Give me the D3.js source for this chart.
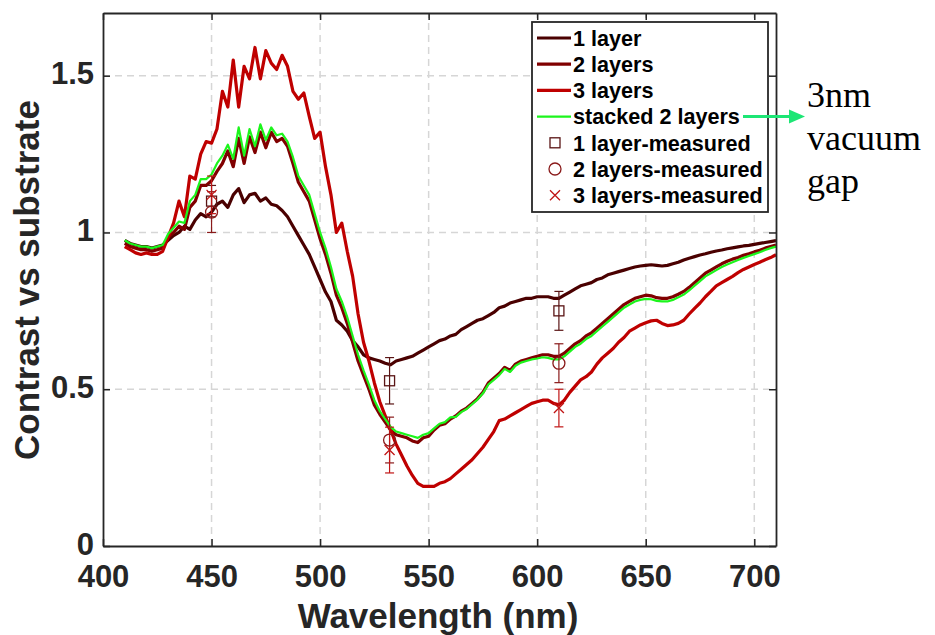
<!DOCTYPE html>
<html><head><meta charset="utf-8">
<script src="https://cdn.jsdelivr.net/npm/d3@7"></script>
<style>body{margin:0;background:#fff}</style>
</head><body>
<svg id="chart" width="935" height="635"></svg>
<script>
// ---- data ----
const wavelengths = [410,412.5,415,417.5,420,422.5,425,427.5,430,432.5,435,437.5,440,442.5,445,447.5,450,452.5,455,457.5,460,462.5,465,467.5,470,472.5,475,477.5,480,482.5,485,487.5,490,492.5,495,497.5,500,502.5,505,507.5,510,512.5,515,517.5,520,522.5,525,527.5,530,532.5,535,537.5,540,542.5,545,547.5,550,552.5,555,557.5,560,562.5,565,567.5,570,572.5,575,577.5,580,582.5,585,587.5,590,592.5,595,597.5,600,602.5,605,607.5,610,612.5,615,617.5,620,622.5,625,627.5,630,632.5,635,637.5,640,642.5,645,647.5,650,652.5,655,657.5,660,662.5,665,667.5,670,672.5,675,677.5,680,682.5,685,687.5,690,692.5,695,697.5,700,702.5,705,707.5,710];

const oneLayer = [0.975,0.965,0.96,0.955, 0.955,0.95,0.955,0.96, 0.975,0.99,1.0,1.02, 1.01,1.04,1.06,1.05,
 1.065,1.09,1.10,1.08, 1.12,1.14,1.095,1.12, 1.125,1.10,1.11,1.09, 1.085,1.07,1.05,1.02,
 0.99,0.96,0.93,0.89, 0.85,0.81,0.78,0.72, 0.705,0.685,0.655,0.635, 0.61,0.60,0.595,0.59,
 0.583,0.578,0.59,0.595, 0.60,0.605,0.615,0.625, 0.635,0.645,0.655,0.66, 0.67,0.675,0.69,0.70,
 0.71,0.72,0.725,0.735, 0.745,0.76,0.765,0.775, 0.78,0.785,0.79,0.79, 0.795,0.795,0.795,0.79,
 0.79,0.80,0.81,0.82, 0.83,0.835,0.84,0.85, 0.855,0.865,0.87,0.875, 0.88,0.885,0.89,0.893,
 0.895,0.897,0.895,0.893, 0.895,0.90,0.905,0.912, 0.918,0.923,0.928,0.932, 0.937,0.941,0.944,0.948,
 0.951,0.954,0.957,0.959, 0.962,0.965,0.968,0.971, 0.974];

const twoLayers = [0.965,0.955,0.95,0.945, 0.945,0.94,0.945,0.95, 0.985,1.0,1.02,1.01, 1.08,1.10,1.15,1.15,
 1.165,1.195,1.22,1.26, 1.21,1.30,1.22,1.305, 1.255,1.32,1.27,1.32, 1.29,1.30,1.275,1.22,
 1.16,1.13,1.10,1.04, 0.98,0.93,0.87,0.80, 0.76,0.71,0.65,0.59, 0.545,0.50,0.45,0.42,
 0.395,0.37,0.355,0.35, 0.345,0.335,0.33,0.345, 0.35,0.37,0.385,0.39, 0.405,0.415,0.43,0.44,
 0.455,0.47,0.49,0.52, 0.535,0.55,0.57,0.56, 0.58,0.59,0.595,0.60, 0.605,0.61,0.61,0.605,
 0.605,0.615,0.63,0.645, 0.655,0.67,0.68,0.695, 0.71,0.725,0.74,0.755, 0.77,0.78,0.79,0.795,
 0.80,0.798,0.792,0.79, 0.79,0.795,0.803,0.812, 0.825,0.84,0.855,0.87, 0.88,0.89,0.90,0.908,
 0.915,0.92,0.927,0.932, 0.938,0.943,0.95,0.955, 0.96];

const threeLayers = [0.955,0.945,0.935,0.93, 0.935,0.93,0.93,0.94, 0.985,1.03,1.10,1.05, 1.18,1.17,1.25,1.29,
 1.285,1.33,1.45,1.40, 1.55,1.40,1.53,1.49, 1.59,1.49,1.58,1.54, 1.52,1.565,1.53,1.45,
 1.425,1.445,1.37,1.30, 1.32,1.21,1.12,1.0, 1.03,0.94,0.86,0.74, 0.65,0.59,0.52,0.46,
 0.415,0.37,0.325,0.29, 0.255,0.225,0.20,0.19, 0.19,0.19,0.20,0.205, 0.215,0.23,0.245,0.26,
 0.275,0.295,0.315,0.34, 0.365,0.40,0.405,0.415, 0.425,0.435,0.445,0.455, 0.46,0.465,0.465,0.455,
 0.45,0.465,0.49,0.51, 0.53,0.54,0.555,0.58, 0.60,0.615,0.63,0.65, 0.665,0.685,0.695,0.705,
 0.712,0.718,0.72,0.71, 0.703,0.705,0.71,0.72, 0.74,0.758,0.775,0.795, 0.812,0.83,0.84,0.85,
 0.86,0.872,0.882,0.89, 0.898,0.905,0.913,0.92, 0.929];

const stackedTwoLayers = [0.975,0.965,0.96,0.955, 0.955,0.95,0.955,0.96, 0.995,1.015,1.035,1.03, 1.10,1.12,1.17,1.17,
 1.185,1.22,1.245,1.28, 1.235,1.335,1.245,1.33, 1.275,1.345,1.295,1.335, 1.31,1.315,1.29,1.24,
 1.18,1.15,1.12,1.06, 1.0,0.95,0.89,0.82, 0.78,0.73,0.67,0.61, 0.56,0.515,0.465,0.43,
 0.405,0.38,0.365,0.36, 0.355,0.35,0.345,0.355, 0.36,0.375,0.39,0.395, 0.41,0.412,0.427,0.437,
 0.452,0.467,0.487,0.515, 0.53,0.545,0.565,0.555, 0.575,0.585,0.59,0.595, 0.598,0.602,0.60,0.595,
 0.595,0.605,0.62,0.635, 0.645,0.66,0.67,0.685, 0.70,0.715,0.73,0.745, 0.76,0.77,0.78,0.785,
 0.788,0.787,0.782,0.78, 0.78,0.785,0.793,0.802, 0.815,0.83,0.845,0.86, 0.87,0.88,0.89,0.898,
 0.905,0.912,0.919,0.925, 0.931,0.937,0.944,0.95, 0.955];

const measuredWavelengths = [450, 532, 610];
const oneLayerMeasured = [1.10, 0.527, 0.75];
const oneLayerError = [0.05, 0.074, 0.062];
const twoLayersMeasured = [1.065, 0.338, 0.583];
const twoLayersError = [0.065, 0.073, 0.062];
const threeLayersMeasured = [1.12, 0.306, 0.44];
const threeLayersError = [0.06, 0.073, 0.06];

const xTicks = [400, 450, 500, 550, 600, 650, 700];
const yTicks = [0, 0.5, 1, 1.5];
const yTickLabels = ["0", "0.5", "1", "1.5"];
const legendLabels = ["1 layer", "2 layers", "3 layers", "stacked 2 layers",
  "1 layer-measured", "2 layers-measured", "3 layers-measured"];
const annotationLines = ["3nm", "vacuum", "gap"];

// ---- styles ----
const C1 = "#4a0000", C2 = "#800000", C3 = "#bf0000", CG = "#1cf51c";
const AX = "#262626";
const FONT = "'Liberation Sans', Arial, Helvetica, sans-serif";

const svg = d3.select("#chart");
const x = d3.scaleLinear().domain([400, 710]).range([103, 776]);
const y = d3.scaleLinear().domain([0, 1.7]).range([546, 13]);
const X0 = 103, X1 = 776, Y0 = 546, Y1 = 13;

// grid
const grid = svg.append("g").attr("stroke", "#d6d6d6").attr("stroke-width", 1.5)
  .attr("stroke-dasharray", "7,5");
grid.selectAll("line.gx").data(xTicks.filter(d => d > 400)).join("line")
  .attr("x1", d => x(d)).attr("x2", d => x(d)).attr("y1", Y0).attr("y2", Y1);
grid.selectAll("line.gy").data(yTicks.filter(d => d > 0)).join("line")
  .attr("x1", X0).attr("x2", X1).attr("y1", d => y(d)).attr("y2", d => y(d));

// curves
const line = d3.line().x(d => x(d[0])).y(d => y(d[1]));
const series = [
  {vals: oneLayer, color: C1, w: 3.2},
  {vals: twoLayers, color: C2, w: 3.2},
  {vals: threeLayers, color: C3, w: 3.2},
  {vals: stackedTwoLayers, color: CG, w: 2.2}
];
series.forEach(s => {
  svg.append("path")
    .datum(wavelengths.map((w, i) => [w, s.vals[i]]))
    .attr("d", line).attr("fill", "none")
    .attr("stroke", s.color).attr("stroke-width", s.w)
    .attr("stroke-linejoin", "round");
});

// measured points with error bars
function errBars(vals, errs, color) {
  const g = svg.append("g").attr("stroke", color).attr("stroke-width", 1.2).attr("fill", "none");
  measuredWavelengths.forEach((w, i) => {
    const cx = x(w), yt = y(vals[i] + errs[i]), yb = y(vals[i] - errs[i]);
    g.append("line").attr("x1", cx).attr("x2", cx).attr("y1", yt).attr("y2", yb);
    g.append("line").attr("x1", cx - 4.5).attr("x2", cx + 4.5).attr("y1", yt).attr("y2", yt);
    g.append("line").attr("x1", cx - 4.5).attr("x2", cx + 4.5).attr("y1", yb).attr("y2", yb);
  });
}
function drawMarker(g, type, cx, cy, color) {
  if (type === "square") {
    g.append("rect").attr("x", cx - 5).attr("y", cy - 5).attr("width", 10).attr("height", 10)
      .attr("fill", "none").attr("stroke", color).attr("stroke-width", 1.3);
  } else if (type === "circle") {
    g.append("circle").attr("cx", cx).attr("cy", cy).attr("r", 6)
      .attr("fill", "none").attr("stroke", color).attr("stroke-width", 1.3);
  } else {
    g.append("path").attr("d", `M${cx-5},${cy-5}L${cx+5},${cy+5}M${cx-5},${cy+5}L${cx+5},${cy-5}`)
      .attr("stroke", color).attr("stroke-width", 1.3).attr("fill", "none");
  }
}
errBars(oneLayerMeasured, oneLayerError, "#5a1515");
errBars(twoLayersMeasured, twoLayersError, "#8a1a1a");
errBars(threeLayersMeasured, threeLayersError, "#c01515");
const mg = svg.append("g");
measuredWavelengths.forEach((w, i) => {
  drawMarker(mg, "square", x(w), y(oneLayerMeasured[i]), "#5a1515");
  drawMarker(mg, "circle", x(w), y(twoLayersMeasured[i]), "#8a1a1a");
  drawMarker(mg, "x", x(w), y(threeLayersMeasured[i]), "#c01515");
});

// axes
const axG = svg.append("g");
const axBottom = axG.append("g").attr("transform", `translate(0,${Y0})`)
  .call(d3.axisBottom(x).tickValues(xTicks).tickSize(-7).tickSizeOuter(0).tickPadding(20));
const axLeft = axG.append("g").attr("transform", `translate(${X0},0)`)
  .call(d3.axisLeft(y).tickValues(yTicks).tickFormat((d, i) => yTickLabels[i]).tickSize(-7).tickSizeOuter(0).tickPadding(9));
const axTop = axG.append("g").attr("transform", `translate(0,${Y1})`)
  .call(d3.axisTop(x).tickValues(xTicks).tickSize(-7).tickSizeOuter(0).tickFormat(""));
const axRight = axG.append("g").attr("transform", `translate(${X1},0)`)
  .call(d3.axisRight(y).tickValues(yTicks).tickSize(-7).tickSizeOuter(0).tickFormat(""));
[axBottom, axLeft, axTop, axRight].forEach(a => {
  a.selectAll("path.domain").attr("stroke", AX).attr("stroke-width", 1.8);
  a.selectAll(".tick line").attr("stroke", AX).attr("stroke-width", 1.5);
  a.selectAll(".tick text").attr("fill", AX).style("font-family", FONT)
    .style("font-weight", "bold").style("font-size", "31px");
});
axBottom.selectAll(".tick text").attr("dy", "0.68em");
axLeft.selectAll(".tick text").attr("dy", "0.26em");

// axis titles
svg.append("text").attr("x", 438).attr("y", 628).attr("text-anchor", "middle")
  .style("font-family", FONT).style("font-weight", "bold").style("font-size", "35px")
  .attr("fill", AX).text("Wavelength (nm)");
svg.append("text").attr("transform", "translate(39,280) rotate(-90)").attr("text-anchor", "middle")
  .style("font-family", FONT).style("font-weight", "bold").style("font-size", "35px")
  .attr("fill", AX).text("Contrast vs substrate");

// legend
const lg = svg.append("g");
lg.append("rect").attr("x", 532).attr("y", 22).attr("width", 236).attr("height", 190)
  .attr("fill", "#fff").attr("stroke", AX).attr("stroke-width", 1.8);
const rowY = i => 38 + i * 26.2;
const legendItems = [
  {type: "line", color: C1, w: 3.2}, {type: "line", color: C2, w: 3.2},
  {type: "line", color: C3, w: 3.2}, {type: "line", color: CG, w: 2.2},
  {type: "square", color: "#5a1515"}, {type: "circle", color: "#8a1a1a"}, {type: "x", color: "#c01515"}
];
legendItems.forEach((it, i) => {
  const cy = rowY(i);
  if (it.type === "line") {
    lg.append("line").attr("x1", 537).attr("x2", 571).attr("y1", cy).attr("y2", cy)
      .attr("stroke", it.color).attr("stroke-width", it.w);
  } else {
    drawMarker(lg, it.type, 555, cy, it.color);
  }
  lg.append("text").attr("x", 573).attr("y", cy).attr("dy", "0.36em")
    .style("font-family", FONT).style("font-weight", "bold").style("font-size", "21.6px")
    .attr("fill", "#000").text(legendLabels[i]);
});

// arrow annotation
const AC = "#1de675";
svg.append("line").attr("x1", 743).attr("x2", 792).attr("y1", rowY(3)).attr("y2", rowY(3))
  .attr("stroke", AC).attr("stroke-width", 3);
svg.append("path").attr("d", `M789,${rowY(3)-7}L805,${rowY(3)}L789,${rowY(3)+7}Z`).attr("fill", AC);
annotationLines.forEach((t, i) => {
  svg.append("text").attr("x", 807).attr("y", 107 + i * 43)
    .style("font-family", "'Liberation Serif', 'Times New Roman', serif").style("font-size", "36px")
    .attr("fill", "#000").text(t);
});
</script>
</body></html>
